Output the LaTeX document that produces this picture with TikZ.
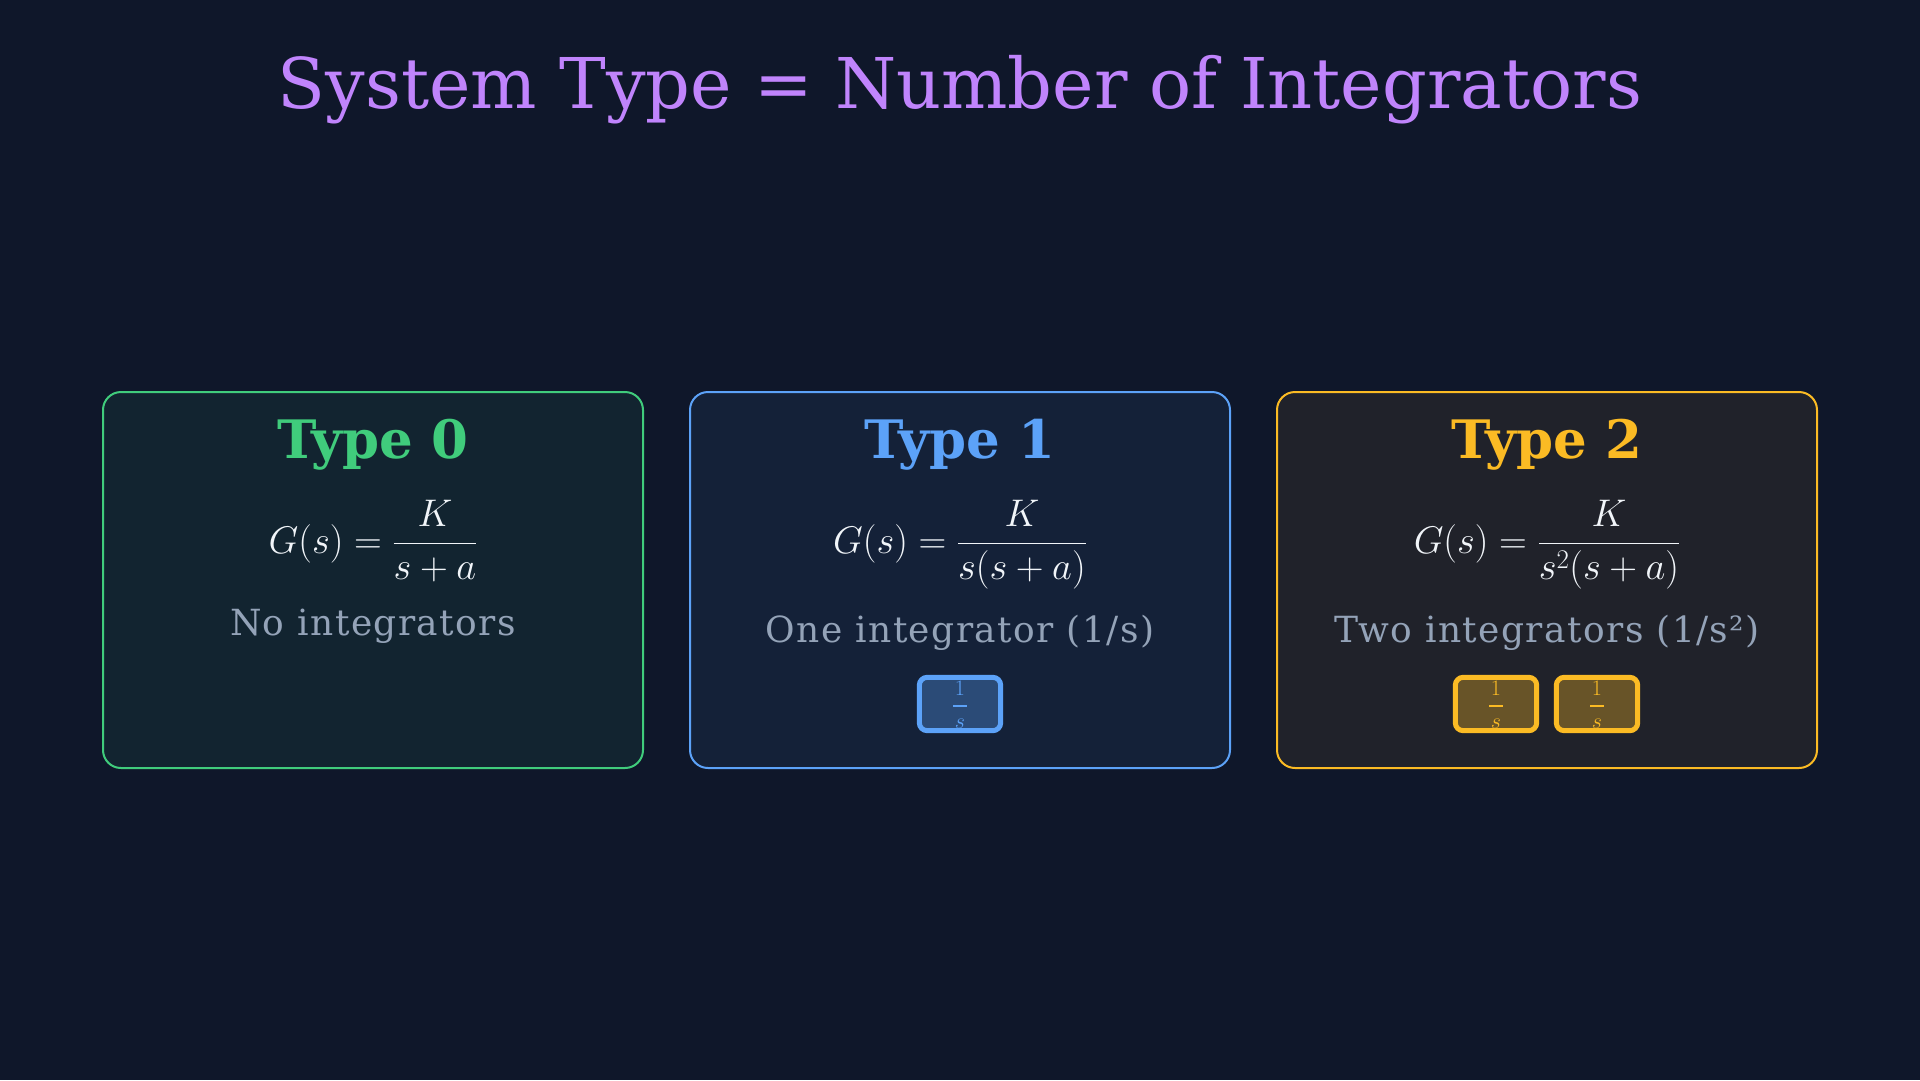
\RequirePackage{fix-cm}
\documentclass[tikz,border=0pt]{standalone}
\usepackage[no-math]{fontspec}
\setmainfont{DejaVu Serif}
\newfontfamily\spacedserif[LetterSpace=4]{DejaVu Serif}
\definecolor{bg}{HTML}{0F172A}
\definecolor{tgreen}{HTML}{40CC7C}
\definecolor{tblue}{HTML}{5CA2F8}
\definecolor{tamber}{HTML}{FBBB24}
\definecolor{tpurple}{HTML}{C084FC}
\definecolor{tgray}{HTML}{94A3B8}
\definecolor{twhite}{HTML}{F1F5F9}
\begin{document}
\begin{tikzpicture}[x=1pt,y=-1pt,
  card/.style={draw=#1, line width=2pt, rounded corners=18pt, fill=#1!7!bg,
    minimum width=540pt, minimum height=376pt, inner sep=0pt},
  cardtitle/.style={text=#1, font=\fontsize{53}{60}\selectfont\bfseries, anchor=base, inner sep=0pt},
  eqn/.style={text=twhite, font=\fontsize{38.5}{46}\selectfont, anchor=base, inner sep=0pt},
  subtxt/.style={text=tgray, font=\spacedserif\fontsize{36}{42}\selectfont, anchor=base, inner sep=0pt},
  intfill/.style={fill=#1, fill opacity=0.33, rounded corners=8pt,
    minimum width=81pt, minimum height=53pt, inner sep=0pt},
  intborder/.style={draw=#1, line width=5pt, rounded corners=8pt},
  intnum/.style={text=#1, font=\fontsize{22}{26}\selectfont, anchor=base, inner sep=0pt},
  intbar/.style={draw=#1, line width=1.3pt},
]
\useasboundingbox (0,0) rectangle (1920,1080);
\fill[bg] (0,0) rectangle (1920,1080);

\node[text=tpurple, font=\fontsize{70}{80}\selectfont, anchor=base, inner sep=0pt] (title) at (960,108) {System Type = Number of Integrators};

% cards
\node[card=tgreen] (c0) at (373,580) {};
\node[card=tblue]  (c1) at (960,580) {};
\node[card=tamber] (c2) at (1547,580) {};

\node[cardtitle=tgreen] (t0) at (373,458) {Type 0};
\node[cardtitle=tblue]  (t1) at (960,458) {Type 1};
\node[cardtitle=tamber] (t2) at (1547,458) {Type 2};

\node[eqn] (e0) at (373,553) {$\displaystyle G(s)=\frac{K}{s+a}$};
\node[eqn] (e1) at (960,553) {$\displaystyle G(s)=\frac{K}{s(s+a)}$};
\node[eqn] (e2) at (1547,553) {$\displaystyle G(s)=\frac{K}{s^2(s+a)}$};

\node[subtxt] (s0) at (373,635) {No integrators};
\node[subtxt] (s1) at (960,642) {One integrator (1/s)};
\node[subtxt] (s2) at (1547,642) {Two integrators (1/s²)};

% integrator blocks
\foreach \nm/\cx/\col in {i1/960/tblue, i2a/1496/tamber, i2b/1597/tamber}{
  \node[intfill=\col] (\nm) at (\cx,704) {};
  \node[intnum=\col] (\nm n) at (\cx,695) {$1$};
  \draw[intbar=\col] ([xshift=-7pt]\nm.center) ++(0,2) -- ++(14,0);
  \node[intnum=\col] (\nm d) at (\cx,728) {$s$};
  \draw[intborder=\col] (\nm.north west) rectangle (\nm.south east);
}
\end{tikzpicture}
\end{document}
